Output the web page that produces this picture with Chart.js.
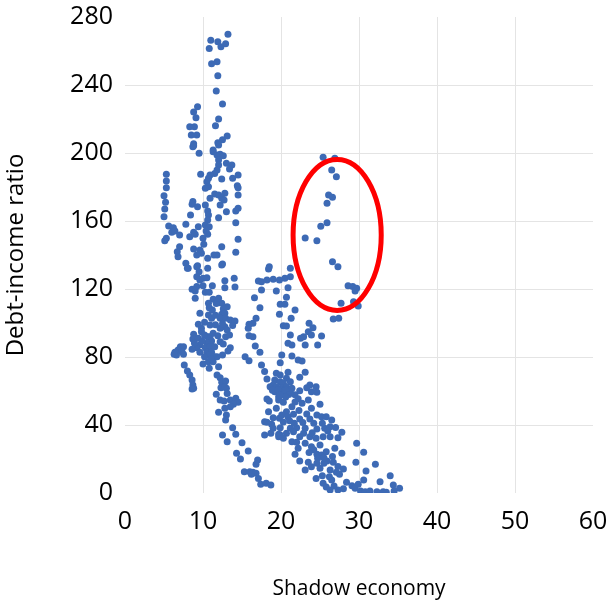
<!DOCTYPE html>
<html>
<head>
<meta charset="utf-8">
<script src="https://cdn.jsdelivr.net/npm/chart.js@4.4.1/dist/chart.umd.min.js"></script>
<style>
  body { margin: 0; background: #fff; }
  canvas { display: block; }
</style>
</head>
<body>
<canvas id="chart" width="609" height="606"></canvas>
<script>
// points: [shadow economy, debt-income ratio]
const leftCluster = [
  [13.2,269.8],[11.0,266.3],[11.9,265.5],[12.3,262.5],[12.9,264.3],[10.8,261.4],[11.1,252.5],[11.8,253.7],[11.9,245.5],[11.7,236.5],
  [12.5,228.8],[9.3,227.2],[8.8,224.1],[9.1,220.8],[12.0,220],[11.6,216],[8.3,215.5],[8.9,215.5],[8.5,210.6],[9.2,210.6],
  [13.1,210],[12.5,207.8],[11.9,206],[8.8,205.5],[8.7,203.7],[11.3,201.8],
  [8.8,204.3],[9.5,199.8],[11.3,200.8],[12.0,204.7],[11.8,198.8],[12.2,199.2],[12.6,198.4],[12.0,195.9],[12.0,192.9],[13.0,193.9],
  [13.7,192.9],[13.4,190.6],[11.8,190],[11.5,188],[10.9,187.1],[10.7,185.1],[9.7,187.5],[14.5,187.1],[13.8,185.1],[12.4,184.7],
  [10.5,183.1],[10.7,180.2],[10.3,179.2],[14.4,180.8],[14.5,179.6],[11.5,175.9],[12.0,175.3],[12.8,176.3],[12.4,173.4],[12.7,172.4],
  [10.9,173.4],[12.2,169.4],[13.0,165.5],[14.5,175.3],[14.5,167.5],[14.2,165.9],[10.3,169.4],[10.6,165.9],[10.7,163.5],[10.6,160.6],
  [12.0,161.9],[14.2,159],[10.3,157.6],[10.8,156.6],[10.4,154.1],[10.6,152.2],[8.7,171.4],[8.6,169.8],[9.3,168.4],[8.4,163.5],
  [7.8,158.1],[9.4,156.6],[8.8,153.4],[8.3,150.8],[9.0,152.2],[10.0,149.8],[10.1,146.3],[9.6,142.9],[9.8,141],[8.8,143.5],
  [9.2,140],[10.6,138.1],[11.4,140],[11.8,140],[12.4,144.9],[12.5,134.7],[14.2,141.6],[14.5,149.2],[7.8,135.1],[9.3,133.7],
  [8.1,132.2],[7.0,144.9],[6.7,141.9],[6.8,139],
  [5.3,187.5],[5.3,183.5],[5.3,179.6],[5.0,174.9],[5.2,171],[5.1,167],[5.0,162.5],[5.6,157.1],[6.2,156.1],[6.0,153.4],
  [6.4,154.1],[7.0,151.8],[5.3,149.8],[5.1,148.4],
  [8.0,132.2],[9.2,133.1],[9.5,130.2],[10.6,132.2],[12.4,134.1],[9.2,127.2],[9.6,125.3],[10.0,126.3],[10.5,126.6],[8.6,119.8],
  [9.0,118.8],[9.2,121.4],[10.0,121.9],[11.2,121.9],[10.3,118.1],[10.8,118.1],[9.0,114.5],[12.8,124.9],[14.0,126.3],[12.8,120.8],
  [14.1,121.2],[11.3,113.9],[10.7,111.6],[10.8,109],[12.4,111.6],[13.1,109.6],[12.6,108.2],[11.2,107.6],[9.6,105.7],[10.7,104.7],
  [11.1,102.8],[12.4,105.1],[12.8,105.7],[12.2,102.8],[12.9,102.8],[13.5,101.8],[14.1,101.2],[10.9,98.8],[12.8,97.8],[13.1,95.9],
  [12.2,96.9],[9.8,96.9],[9.8,94.9],[8.8,93.4],[11.3,93.9],[10.9,91.9],[10.6,91.9],[8.7,90.6],[9.4,91],[12.9,91.9],
  [12.2,89],[11.1,89.4],[10.5,88.1],[9.6,87.1],[9.2,85.5],[10.3,85.5],[10.9,86.1],[11.5,86.1],[13.5,85.5],[13.2,83.5],
  [9.6,82.8],[10.5,82.8],[11.1,82.8],[11.5,80.2],[10.7,81.2],[7.1,86.1],[7.5,86.1],[6.8,84.1],[7.3,83.1],[6.4,82.8],
  [6.6,81.2],[6.3,81.6],[7.5,81.6],[10.0,75.9],[10.7,77.2],[11.3,77.2],[11.8,80.2],[10.8,73.4],[12.0,74.3],[7.6,75.3],
  [8.0,71.8],[8.3,69.4],[8.6,66.5],[8.7,63.5],[8.8,61.6],[11.8,69.4],[12.2,67.8],[12.4,65.1],[12.9,65.9],[12.7,62.5],
  [13.0,61.6],
  [11.7,111.5],[12.0,114.5],[11.6,104.5],[10.2,100.5],[11.6,99],[12.5,99.5],[9.4,99.2],[10.2,93],[11.9,92.5],[12.6,87.7],
  [9.9,89.5],[8.9,88.2],[11.0,79],[12.5,81.2],[10.2,80.2],[8.6,84.5],[13.8,98.5],[13.4,92.9],
  [8.6,61.2],[11.7,58.1],[12.3,61.9],[12.8,62.5],[13.1,58.6],[12.2,54.7],[12.7,54.1],[13.5,54.7],[14.2,55.7],[14.5,53.4],
  [13.9,52.2],[13.5,50.8],[12.8,49.8],[12.0,47.5],[13.0,45.9],[12.9,42.9],[13.8,38.4],[14.2,34.5],[12.5,34.1],[13.1,30.2],
  [15.0,29.6],[15.8,24.7],[14.3,23.4],[14.8,20],[15.3,12.5],[16.0,12.5],[16.4,12.2],[16.8,11.6],[16.2,11],[17.1,8.6],
  [17.4,5.1],[18.1,5.7],[18.7,4.7],[17.0,19.4],[16.8,16.9]
]

const rightCluster = [
  [18.6,62.5],[19.7,56.6],[18.2,55.3],[18.4,47.8],[17.9,41.9],[18.8,40.4],[19.0,38.1],[18.7,35.1],[17.9,34.1],[19.7,33.1],
  [19.8,43.9],[18.4,131.8],[21.2,132.2],[18.5,133.1],
  [17.1,124.7],[17.5,124.3],[18.2,125.3],[19.0,125.7],[19.8,125.3],[20.5,126.3],[21.2,127.2],[17.5,119.4],[19.4,118.8],[20.9,120.8],
  [16.6,114.9],[20.7,115.1],[19.9,111],[20.5,111],[21.8,107.6],[17.3,109],[19.8,105.1],[21.3,102.8],[16.8,102.8],[16.4,99.8],
  [15.9,99.2],[15.8,96.9],[20.3,98.4],[20.7,98.2],[23.6,99.8],[24.1,97.2],[23.5,94.9],[22.9,91.9],[22.5,91],[25.2,92.4],
  [23.9,92.9],[21.2,92.9],[15.9,92.5],[16.4,91.9],[20.9,88.1],[21.4,87.1],[23.1,87.1],[24.7,87.1],[16.7,86.5],[17.3,82.8],
  [15.4,80.2],[15.9,77.8],[20.1,81.2],[21.4,80.6],[22.2,78.2],[22.7,77.6],[19.9,76.6],[17.5,75.3],[17.9,71.4],[18.2,67.1],
  [23.1,71],[22.4,68.1],[19.4,70.4],[19.9,69.4],[20.9,71],[20.7,67.5],[19.2,66.5],[19.9,65.5],[20.3,64.5],[21.2,65.5],
  [19.0,63.5],[23.7,63.5],[24.5,62.5],
  [19.4,62.5],[20.1,61.9],[20.7,62.5],[21.4,61.6],[19.2,59.6],[20.3,59.6],[21.2,59.6],[23.3,61.9],[23.9,59.6],[24.6,59.2],
  [18.5,54.1],[19.7,54.7],[20.3,53.4],[21.4,50.8],[22.7,52.8],[23.5,54.7],[25.0,52.2],[23.9,49.8],[19.4,49.8],[20.7,47.8],
  [19.0,44.3],[20.1,45.9],[20.9,44.9],[21.6,46.3],[22.4,43.5],[24.6,45.9],[25.2,44.9],[25.8,44.9],[26.5,42.9],[23.7,43.5],
  [18.2,41.6],[19.9,38.4],[21.2,38.1],[22.0,38.4],[23.1,38.1],[24.6,37.6],[25.6,38.1],[26.3,39],[19.7,34.5],[20.7,35.1],
  [21.6,36.1],[22.4,33.1],[23.7,33.1],[24.5,32.2],[25.4,33.1],[26.3,33.1],[27.3,32.5],[27.8,35.7],[23.1,29.2],[23.9,27.2],
  [22.2,26.3],[21.8,22.8],[24.6,22.8],[25.2,22.4],[26.9,26.3],[29.7,29.2],[30.6,23.9],[23.5,18.1],[24.6,17.5],[25.9,18.8],
  [26.7,18.1],[29.6,18.1],[32.1,16.9],[25.0,14.5],[26.3,13.5],[27.1,12.2],[30.9,12.9],[25.3,10.2],[26.2,9.6],[26.5,7.6],
  [27.5,11],[25.4,5.7],[26.3,1.8],[27.3,1.8],[28.4,6.3],[29.1,4.3],[29.5,2.8],[30.2,1.2],[30.8,0.8],[31.4,1.2],
  [30.6,7.6],[32.7,6.6],[34.0,10.2],[32.3,0.8],[33.1,0.8],[33.5,0.4],[34.4,4.7],[35.2,2.8],[34.5,1.2],[24.5,8.6],
  [19.9,34.1],[20.3,32.2],[21.4,30.2],[22.0,29.8],[25.0,28.2],[25.8,24.3],[27.8,23.4],[22.4,18.8],[23.1,13.5],[23.9,15.5],
  [25.5,17.5],
  [18.9,60.5],[19.6,60.8],[20.6,60.5],[21.0,58],[19.9,57.5],[20.6,56.5],[21.8,57.8],[22.4,60.2],[22.2,55.5],[21.8,53.5],
  [21.7,41],[22.8,41.5],[23.3,46.5],[22.3,48.5],[24.2,41],[25.3,41],[24.0,35.5],[22.9,35.2],[21.1,42.5],[20.3,41.7],
  [26.0,36.5],[27.0,38.5],[24.2,25.5],[24.7,20.5],[25.5,20.8],[26.6,21.5],[23.6,23.8],[27.3,15.6],[28.0,14.1],[26.8,4.1],
  [28.0,2.5],[25.8,3.6],[29.9,5.2]
]

const circled = [
  [25.4,197.5],[26.9,196.9],[26.5,190],[27.1,186.1],[26.1,175.3],[26.6,173.9],[25.9,170.4],[25.1,156.9],[25.9,159],[23.1,150],
  [24.6,148.4],[26.6,136.1],[27.3,133.1],[28.6,121.9],[29.2,121.4],[29.7,120.4],[29.5,118.8],[27.7,111.6],[29.3,112.5],[29.9,110],
  [26.7,102.4],[27.4,102.8]
]

const xTicks = [0, 10, 20, 30, 40, 50, 60]
const yTicks = [0, 40, 80, 120, 160, 200, 240, 280]
const xTitle = "Shadow economy"
const yTitle = "Debt-income ratio"

// red ring round the circled group, in data units
const ringCenter = [27.2, 151.8]
const ringRadius = [5.65, 44.4]

const blue = "#3d6ab5"
const grid = "#e4e4e4"

const ringPlugin = {
    id: "ring",
    afterDatasetsDraw(chart) {
        const { ctx, scales: { x, y } } = chart
        const cx = x.getPixelForValue(ringCenter[0])
        const cy = y.getPixelForValue(ringCenter[1])
        const rx = x.getPixelForValue(ringCenter[0] + ringRadius[0]) - cx
        const ry = cy - y.getPixelForValue(ringCenter[1] + ringRadius[1])
        ctx.save()
        ctx.strokeStyle = "#ff0000"
        ctx.lineWidth = 5
        ctx.beginPath()
        ctx.ellipse(cx, cy, rx, ry, 0, 0, Math.PI * 2)
        ctx.stroke()
        ctx.restore()
    }
}

const points = [...leftCluster, ...rightCluster, ...circled].map(([x, y]) => ({ x, y }))

const innerGrid = (ctx, ends) => ends.includes(ctx.tick && ctx.tick.value) ? "rgba(0,0,0,0)" : grid

new Chart(document.getElementById("chart"), {
    type: "scatter",
    data: {
        datasets: [{
            data: points,
            backgroundColor: blue,
            borderColor: blue,
            borderWidth: 0,
            pointRadius: 3.5,
        }]
    },
    options: {
        responsive: false,
        animation: false,
        // plot box is placed by this padding alone; label overhang is zeroed in afterFit
        layout: { padding: { top: 17, right: 16, left: 0, bottom: 0 } },
        plugins: { legend: { display: false }, tooltip: { enabled: false } },
        scales: {
            x: {
                min: xTicks[0],
                max: xTicks[xTicks.length - 1],
                afterBuildTicks: s => { s.ticks = xTicks.map(v => ({ value: v })) },
                afterFit: s => { s.height = 113; s.paddingLeft = 0; s.paddingRight = 0 },
                border: { display: false },
                grid: { color: c => innerGrid(c, [0, 60]), drawTicks: false },
                ticks: { padding: 14, color: "#000", font: { family: "Open Sans", size: 25 } },
                title: { display: true, text: xTitle, color: "#000", padding: { top: 0, bottom: 4 }, font: { family: "Open Sans", size: 21 } },
            },
            y: {
                min: yTicks[0],
                max: yTicks[yTicks.length - 1],
                afterBuildTicks: s => { s.ticks = yTicks.map(v => ({ value: v })) },
                afterFit: s => { s.width = 125; s.paddingTop = 0; s.paddingBottom = 0 },
                border: { display: false },
                grid: { color: c => innerGrid(c, [0, 280]), drawTicks: false },
                ticks: { padding: 12, color: "#000", font: { family: "Open Sans", size: 25 } },
                title: { display: true, text: yTitle, color: "#000", padding: { top: 2, bottom: 0 }, font: { family: "Open Sans", size: 24 } },
            },
        },
    },
    plugins: [ringPlugin],
})
</script>
</body>
</html>
